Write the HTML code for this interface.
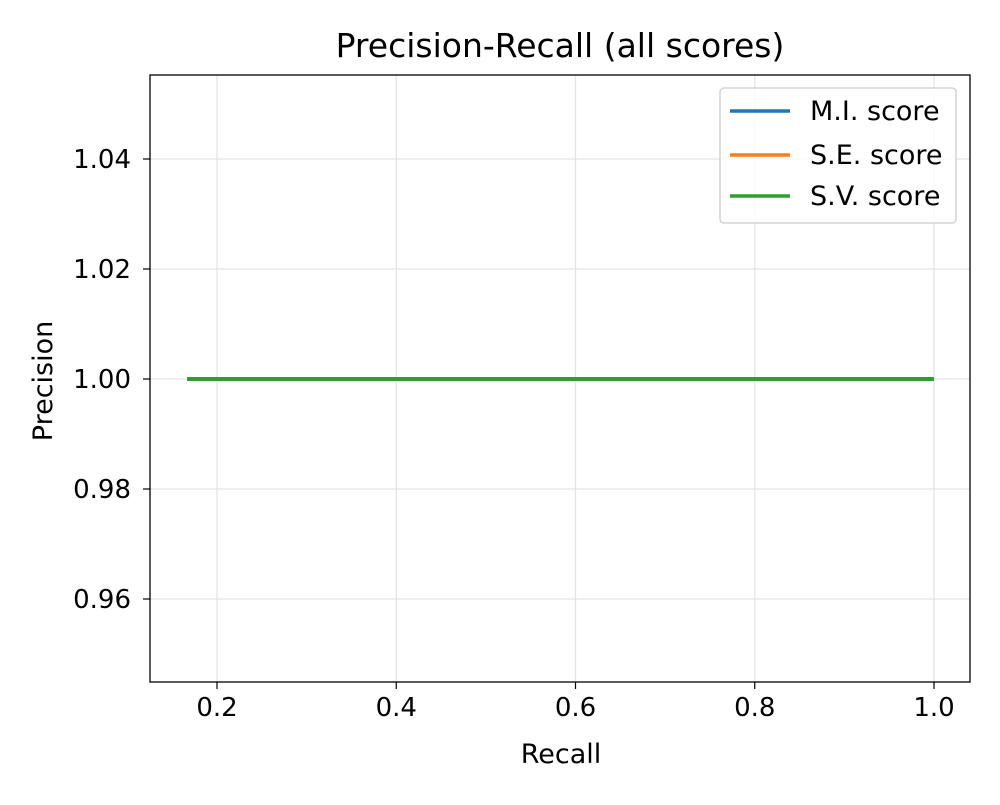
<!DOCTYPE html>
<html><head><meta charset="utf-8"><style>
body{margin:0;background:#fff;font-family:"Liberation Sans","DejaVu Sans",sans-serif;}
</style></head><body>
<svg width="1000" height="800" xmlns="http://www.w3.org/2000/svg" id="chart" font-family="DejaVu Sans, Liberation Sans, sans-serif">
<rect width="1000" height="800" fill="#fff"/>
<g id="grid"></g>
<g id="series"></g>
<rect x="150" y="75" width="820" height="607" fill="none" stroke="#000" stroke-width="1.3"/>
<g id="ticks"></g>
<text x="560" y="57" text-anchor="middle" font-size="33">Precision-Recall (all scores)</text>
<text x="561" y="763" text-anchor="middle" font-size="27">Recall</text>
<text transform="translate(52,381) rotate(-90)" text-anchor="middle" font-size="27">Precision</text>
<g>
<rect x="720" y="88" width="236" height="135" rx="4" fill="#fff" stroke="#ccc" stroke-width="1.3" fill-opacity="0.8"/>
<g><line x1="730" y1="111" x2="790" y2="111" stroke="#1f77b4" stroke-width="3.5"/><text x="810" y="120" font-size="27">M.I. score</text></g>
<g><line x1="730" y1="155" x2="790" y2="155" stroke="#ff7f0e" stroke-width="3.5"/><text x="810" y="164" font-size="27">S.E. score</text></g>
<g><line x1="730" y1="196" x2="790" y2="196" stroke="#2ca02c" stroke-width="3.5"/><text x="810" y="205" font-size="27">S.V. score</text></g>
</g>
</svg>
<script>
const xTicks=[0.2,0.4,0.6,0.8,1.0];
const xTickLabels=["0.2","0.4","0.6","0.8","1.0"];
const yTicks=[0.96,0.98,1.00,1.02,1.04];
const yTickLabels=["0.96","0.98","1.00","1.02","1.04"];
const seriesNames=["M.I. score","S.E. score","S.V. score"];
const seriesColors=["#1f77b4","#ff7f0e","#2ca02c"];
const miRecall=[0.1667,0.3333,0.5,0.6667,0.8333,1.0];
const miPrecision=[1,1,1,1,1,1];
const seRecall=[0.1667,0.3333,0.5,0.6667,0.8333,1.0];
const sePrecision=[1,1,1,1,1,1];
const svRecall=[0.1667,0.3333,0.5,0.6667,0.8333,1.0];
const svPrecision=[1,1,1,1,1,1];
const NS="http://www.w3.org/2000/svg";
const xs=v=>217+(v-0.2)*896.25;
const ys=v=>379-(v-1.0)*5500;
const grid=document.getElementById('grid'),ticks=document.getElementById('ticks'),ser=document.getElementById('series');
function mk(tag,attrs,parent){const e=document.createElementNS(NS,tag);for(const k in attrs)e.setAttribute(k,attrs[k]);parent.appendChild(e);return e;}
xTicks.forEach((t,i)=>{const x=xs(t);
 const g=mk('line',{x1:x,x2:x,y1:75,y2:682,stroke:'#e3e3e3','stroke-width':1.2},grid);
 
 
 const tk=mk('line',{x1:x,x2:x,y1:682,y2:689,stroke:'#000','stroke-width':1.2},ticks);
 
 
 const tx=mk('text',{x:x,y:716,'text-anchor':'middle','font-size':26},ticks);tx.textContent=xTickLabels[i];
 
 
});
yTicks.forEach((t,i)=>{const y=ys(t);
 const g=mk('line',{x1:150,x2:970,y1:y,y2:y,stroke:'#e3e3e3','stroke-width':1.2},grid);
 
 
 const tk=mk('line',{x1:143,x2:150,y1:y,y2:y,stroke:'#000','stroke-width':1.2},ticks);
 
 
 const tx=mk('text',{x:131,y:y+9,'text-anchor':'end','font-size':26},ticks);tx.textContent=yTickLabels[i];
 
 
});
[[miRecall,miPrecision],[seRecall,sePrecision],[svRecall,svPrecision]].forEach((s,i)=>{
 const pts=s[0].map((r,j)=>xs(r)+','+ys(s[1][j])).join(' ');
 const p=mk('polyline',{points:pts,fill:'none',stroke:seriesColors[i],'stroke-width':4},ser);
 
 
});
</script>
</body></html>
